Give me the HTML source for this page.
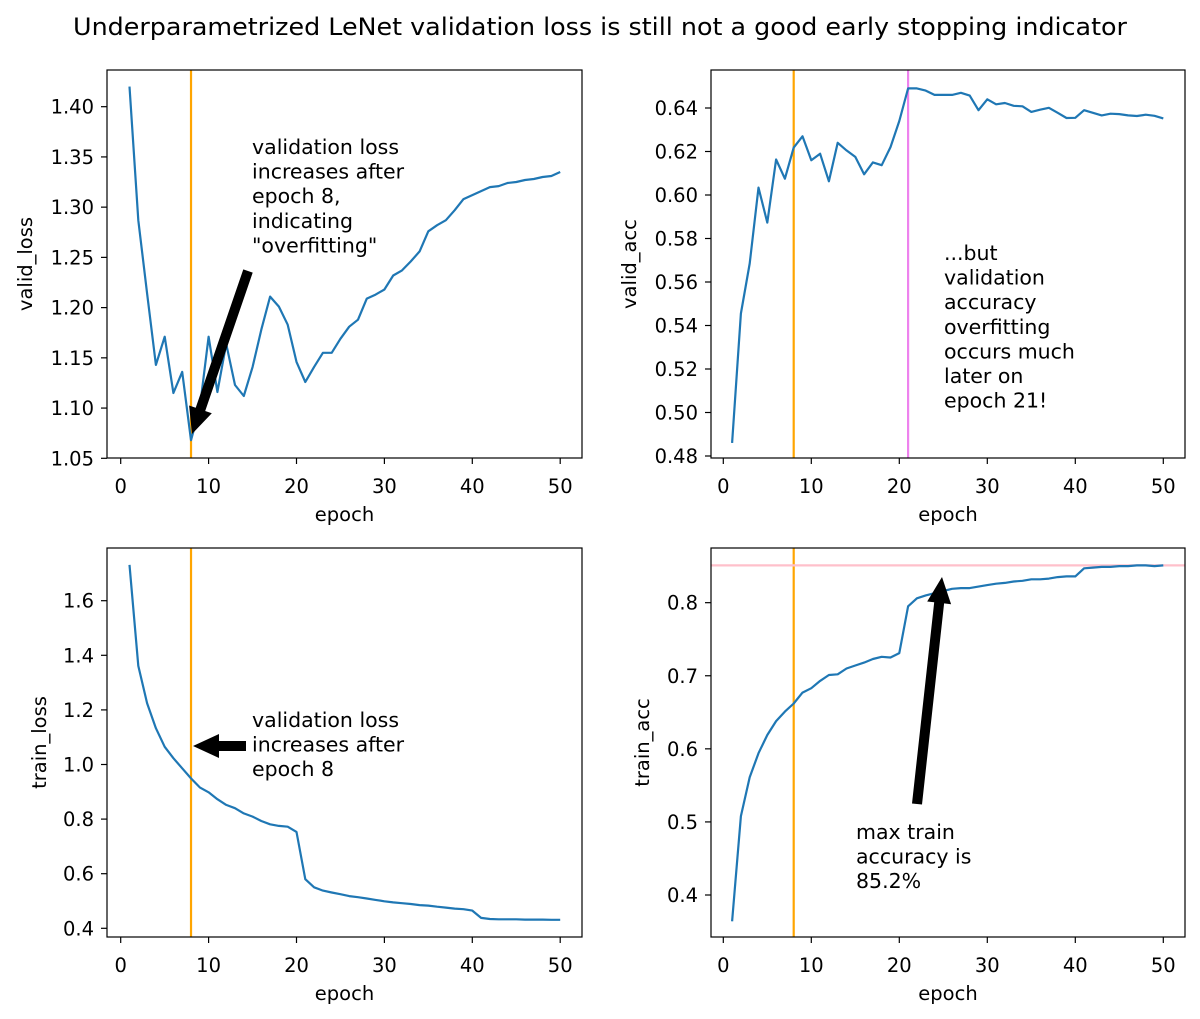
<!DOCTYPE html>
<html><head><meta charset="utf-8"><style>
body{margin:0;background:#fff}
svg{display:block;font-family:"DejaVu Sans","Liberation Sans",sans-serif}
</style></head><body>
<svg id="fig" width="1200" height="1019" viewBox="0 0 1200 1019" xmlns="http://www.w3.org/2000/svg">
<rect width="1200" height="1019" fill="#fff"/>
<text x="600" y="35" text-anchor="middle" font-size="24" textLength="1054" lengthAdjust="spacingAndGlyphs">Underparametrized LeNet validation loss is still not a good early stopping indicator</text>
</svg>
<script>
const epochs = Array.from({length:50},(_,i)=>i+1);
const validLoss = [1.42,1.287,1.214,1.143,1.171,1.115,1.136,1.068,1.10,1.171,1.116,1.164,1.123,1.112,1.141,1.178,1.211,1.201,1.183,1.146,1.126,1.141,1.155,1.155,1.169,1.181,1.188,1.209,1.213,1.218,1.232,1.237,1.246,1.256,1.276,1.282,1.287,1.297,1.308,1.312,1.316,1.320,1.321,1.324,1.325,1.327,1.328,1.330,1.331,1.335];
const validAcc = [0.486,0.5455,0.5685,0.6034,0.5873,0.6163,0.6075,0.6218,0.627,0.616,0.619,0.6063,0.624,0.6205,0.6175,0.6095,0.615,0.6137,0.622,0.634,0.649,0.649,0.648,0.646,0.646,0.646,0.647,0.6457,0.639,0.644,0.6417,0.6423,0.641,0.6408,0.6382,0.6392,0.6401,0.6378,0.6354,0.6355,0.639,0.6378,0.6366,0.6374,0.6372,0.6366,0.6363,0.6369,0.6364,0.6352];
const trainLoss = [1.731,1.361,1.224,1.133,1.065,1.023,0.986,0.949,0.916,0.898,0.873,0.852,0.840,0.821,0.809,0.793,0.781,0.775,0.772,0.753,0.580,0.550,0.538,0.531,0.525,0.518,0.514,0.509,0.504,0.499,0.495,0.492,0.489,0.485,0.483,0.479,0.476,0.472,0.470,0.465,0.438,0.434,0.433,0.433,0.433,0.432,0.432,0.432,0.431,0.431];
const trainAcc = [0.364,0.508,0.561,0.594,0.619,0.638,0.651,0.662,0.677,0.683,0.693,0.701,0.702,0.710,0.714,0.718,0.723,0.726,0.725,0.731,0.795,0.806,0.810,0.813,0.816,0.819,0.820,0.820,0.822,0.824,0.826,0.827,0.829,0.830,0.832,0.832,0.833,0.835,0.836,0.836,0.847,0.848,0.849,0.849,0.850,0.850,0.851,0.851,0.850,0.851];
const xTicks = [0,10,20,30,40,50];
const tlTicks = ["1.05","1.10","1.15","1.20","1.25","1.30","1.35","1.40"];
const trTicks = ["0.48","0.50","0.52","0.54","0.56","0.58","0.60","0.62","0.64"];
const blTicks = ["0.4","0.6","0.8","1.0","1.2","1.4","1.6"];
const brTicks = ["0.4","0.5","0.6","0.7","0.8"];
const earlyEpoch = 8, bestAccEpoch = 21, maxTrainAcc = 0.851;

const NS="http://www.w3.org/2000/svg", svg=document.getElementById('fig');
const FS=19.5, AFS=20.5;
function el(tag,attrs,parent,text){const e=document.createElementNS(NS,tag);for(const k in attrs)e.setAttribute(k,attrs[k]);if(text!==undefined)e.textContent=text;(parent||svg).appendChild(e);return e;}

function panel(cfg){
  const g=el('g',{});
  
  
  const X=e=>cfg.x0px+(e-0)*cfg.xs;
  const Y=v=>cfg.v0px-(v-cfg.v0)*cfg.ys;
  xTicks.forEach(t=>{
    const tk=el('line',{x1:X(t),x2:X(t),y1:cfg.b,y2:cfg.b+6,stroke:'#000','stroke-width':1.2},g);
    
    
    const tl=el('text',{x:X(t),y:cfg.b+35,'text-anchor':'middle','font-size':FS},g,String(t));
    
    
  });
  cfg.yt.forEach(s=>{
    const v=parseFloat(s);
    const tk=el('line',{x1:cfg.l-6,x2:cfg.l,y1:Y(v),y2:Y(v),stroke:'#000','stroke-width':1.2},g);
    
    
    const tl=el('text',{x:cfg.l-13,y:Y(v)+7,'text-anchor':'end','font-size':FS},g,s);
    
    
  });
  const xl=el('text',{x:(cfg.l+cfg.r)/2,y:cfg.b+63,'text-anchor':'middle','font-size':FS},g,'epoch');
  
  
  const yc=(cfg.t+cfg.b)/2;
  const yl=el('text',{x:cfg.ylx,y:yc,'text-anchor':'middle','font-size':FS,transform:`rotate(-90 ${cfg.ylx} ${yc})`},g,cfg.ylabel);
  
  
  (cfg.vlines||[]).forEach(([e,c,n])=>{
    const ln=el('line',{x1:X(e),x2:X(e),y1:cfg.t,y2:cfg.b,stroke:c,'stroke-width':2.2},g);
    
    
  });
  (cfg.hlines||[]).forEach(([v,c,n])=>{
    const ln=el('line',{x1:cfg.l,x2:cfg.r,y1:Y(v),y2:Y(v),stroke:c,'stroke-width':2.2},g);
    
    
  });
  const pts=epochs.map((e,i)=>X(e).toFixed(1)+','+Y(cfg.data[i]).toFixed(1)).join(' ');
  const pl=el('polyline',{points:pts,fill:'none',stroke:'#1f77b4','stroke-width':2.2,'stroke-linejoin':'round'},g);
  
  
  const fr=el('rect',{x:cfg.l,y:cfg.t,width:cfg.r-cfg.l,height:cfg.b-cfg.t,fill:'none',stroke:'#000','stroke-width':1.2},g);
  
  
  if(cfg.text){
    const tx=el('text',{'font-size':AFS},g);
    
    
    cfg.text.lines.forEach((s,i)=>el('tspan',{x:cfg.text.x,y:cfg.text.y+i*24.6},tx,s));
  }
  if(cfg.arrow){
    const [x1,y1,x2,y2]=cfg.arrow;
    const dx=x2-x1,dy=y2-y1,L=Math.hypot(dx,dy),ux=dx/L,uy=dy/L,px=-uy,py=ux;
    const hw=5,HW=12,HL=26;
    const bx=x2-ux*HL,by=y2-uy*HL;
    const p=[[x1+px*hw,y1+py*hw],[bx+px*hw,by+py*hw],[bx+px*HW,by+py*HW],[x2,y2],[bx-px*HW,by-py*HW],[bx-px*hw,by-py*hw],[x1-px*hw,y1-py*hw]];
    const a=el('polygon',{points:p.map(q=>q[0].toFixed(1)+','+q[1].toFixed(1)).join(' '),fill:'#000'},g);
    
    
  }
}
const L1={l:107,r:582,x0px:120.7,xs:8.79}, R1={l:711,r:1185,x0px:723.3,xs:8.8};
panel(Object.assign({},L1,{name:'valid-loss-panel',t:70,b:458,v0:1.05,v0px:458.3,ys:1004.6,yt:tlTicks,ylabel:'valid_loss',ylx:32,data:validLoss,seriesName:'valid-loss-line',
  vlines:[[earlyEpoch,'orange','early-stop-line']],
  text:{x:252,y:154,lines:['validation loss','increases after','epoch 8,','indicating','"overfitting"']},arrow:[248,271,192,434]}));
panel(Object.assign({},R1,{name:'valid-acc-panel',t:70,b:458,v0:0.48,v0px:456,ys:2175,yt:trTicks,ylabel:'valid_acc',ylx:636,data:validAcc,seriesName:'valid-acc-line',
  vlines:[[earlyEpoch,'orange','early-stop-line'],[bestAccEpoch,'violet','best-acc-line']],
  text:{x:944,y:260,lines:['...but','validation','accuracy','overfitting','occurs much','later on','epoch 21!']}}));
panel(Object.assign({},L1,{name:'train-loss-panel',t:548,b:937,v0:0.4,v0px:928.3,ys:273,yt:blTicks,ylabel:'train_loss',ylx:46,data:trainLoss,seriesName:'train-loss-line',
  vlines:[[earlyEpoch,'orange','early-stop-line']],
  text:{x:252,y:727,lines:['validation loss','increases after','epoch 8']},arrow:[246,746,193,746]}));
panel(Object.assign({},R1,{name:'train-acc-panel',t:548,b:937,v0:0.4,v0px:895,ys:730.8,yt:brTicks,ylabel:'train_acc',ylx:649,data:trainAcc,seriesName:'train-acc-line',
  vlines:[[earlyEpoch,'orange','early-stop-line']],hlines:[[maxTrainAcc,'pink','max-train-acc-line']],
  text:{x:856,y:839,lines:['max train','accuracy is','85.2%']},arrow:[917,804,942,577]}));
</script>
</body></html>
